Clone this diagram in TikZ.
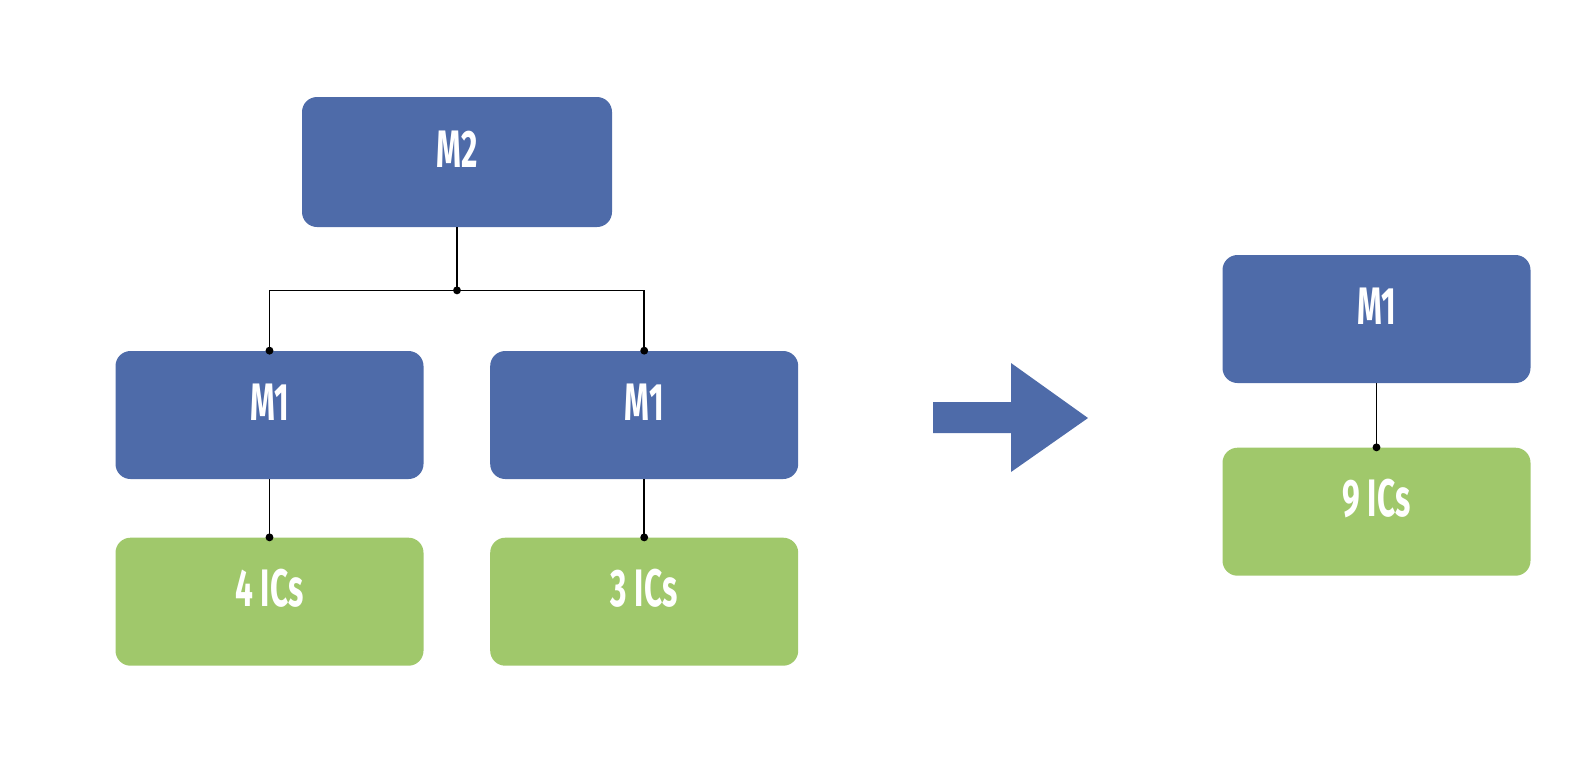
\documentclass[tikz,border=0pt]{standalone}
\usepackage{fontspec}
\usepackage{tikz}
\usepackage{xcolor}
\usetikzlibrary{arrows.meta, positioning, calc}
\newfontfamily\boxfont{Fira Sans}[FakeStretch=0.6]
\definecolor{ModBlue}{HTML}{4E6BA9}
\definecolor{ICGreen}{HTML}{A0C86B}
\tikzset{
    % Module box style
    module/.style={
        rectangle,
        rounded corners=0.3cm,
        draw=none,
        fill=ModBlue,
        text=white,
        minimum width=6.16cm,
        minimum height=2.56cm,
        text height=0.73cm,
        text depth=0.52cm,
        align=center,
        font=\boxfont\bfseries\fontsize{30}{30}\selectfont
    },
    % IC box style
    icbox/.style={
        module,
        fill=ICGreen
    },
    % Connector style
    link/.style={
        line width=0.9pt,
        color=black
    },
    % Junction dot
    joint/.style={
        circle,
        fill=black,
        inner sep=0pt,
        minimum size=4.5pt
    }
}

\begin{document}
\begin{tikzpicture}
        \useasboundingbox (0,0) rectangle (31.72,-15.4);

        % Before: two-level tree
        \node (m2) [module, minimum width=6.2cm, minimum height=2.6cm] at (9.14,-3.24) {M2};
        \node (m1a) [module] at (5.39,-8.3) {M1};
        \node (m1b) [module, right=1.32cm of m1a] {M1};
        \node (ic4) [icbox, below=1.16cm of m1a] {4 ICs};
        \node (ic3) [icbox, below=1.16cm of m1b] {3 ICs};

        \coordinate (bus) at ($(m2.south)+(0,-1.26)$);
        \draw [link] (m2.south) -- (bus);
        \draw [link] (bus) -| (m1a.north);
        \draw [link] (bus) -| (m1b.north);
        \draw [link] (m1a.south) -- (ic4.north);
        \draw [link] (m1b.south) -- (ic3.north);

        \node (busdot) [joint] at (bus) {};
        \node (dota) [joint] at (m1a.north) {};
        \node (dotb) [joint] at (m1b.north) {};
        \node (dot4) [joint] at (ic4.north) {};
        \node (dot3) [joint] at (ic3.north) {};

        % Big arrow
        \fill [ModBlue] (18.66,-8.04) -- (20.22,-8.04) -- (20.22,-7.26) -- (21.76,-8.36)
            -- (20.22,-9.44) -- (20.22,-8.66) -- (18.66,-8.66) -- cycle;

        % After: merged
        \node (m1c) [module] at (27.53,-6.38) {M1};
        \node (ic9) [icbox, below=1.28cm of m1c] {9 ICs};
        \draw [link] (m1c.south) -- (ic9.north);
        \node (dot9) [joint] at (ic9.north) {};
    \end{tikzpicture}
\end{document}
